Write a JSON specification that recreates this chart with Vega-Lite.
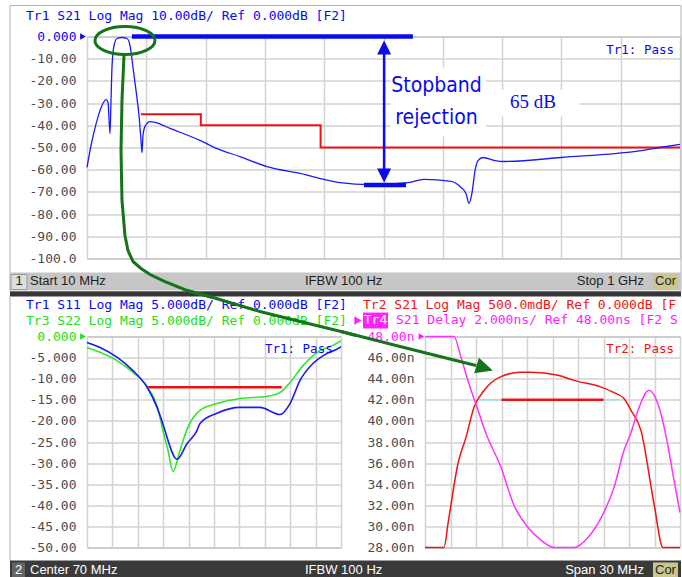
{
  "$schema": "https://vega.github.io/schema/vega-lite/v6.json",
  "padding": {"left": 7, "top": 4.5, "right": 0, "bottom": 0},
  "background": "white",
  "bounds": "flush",
  "spacing": 78,
  "config": {"view": {"stroke": "#7c7c7c", "strokeWidth": 1}},
  "vconcat": [
    {
      "width": 593,
      "height": 222,
      "encoding": {
        "x": {"field": "f", "type": "quantitative", "scale": {"domain": [10, 1000], "nice": false, "zero": false},
          "axis": {"values": [10, 109, 208, 307, 406, 505, 604, 703, 802, 901, 1000], "labels": false, "ticks": false, "domain": false, "grid": true, "title": null, "gridColor": "#d2d2d2", "gridWidth": 1.5}},
        "y": {"field": "v", "type": "quantitative", "scale": {"domain": [-100, 0], "nice": false, "zero": false},
          "axis": {"values": [-100, -90, -80, -70, -60, -50, -40, -30, -20, -10, 0], "title": null, "ticks": false, "domain": false, "grid": true, "gridColor": "#d2d2d2", "gridWidth": 1.5,
            "labelFont": "DejaVu Sans Mono", "labelFontSize": 13, "labelPadding": 11, "labelFlush": false, "labelOverlap": false,
            "labelColor": {"condition": {"test": "datum.value == 0", "value": "#0a0af0"}, "value": "#4d4d4d"},
            "labelExpr": "datum.value == 0 ? '0.000' : (datum.value <= -100 ? '-' + format(-datum.value, '.1f') : '-' + format(-datum.value, '.2f'))"}}
      },
      "layer": [
        {"data": {"values": [{"f": -118.55, "f2": 1001.67, "v": 13.96, "v2": -114.86}]}, "mark": {"type": "rect", "filled": false, "stroke": "#b4b4b4", "strokeWidth": 1}, "encoding": {"x2": {"field": "f2"}, "y2": {"field": "v2"}}},
        {"data": {"values": [{"f": -118.55, "f2": 1001.67, "v": -106.31, "v2": -114.41}]}, "mark": {"type": "rect", "fill": "#c6c6c6"}, "encoding": {"x2": {"field": "f2"}, "y2": {"field": "v2"}}},
        {"data": {"values": [{"f": -118.55, "f2": 1001.67, "v": -114.86, "v2": -117.12}]}, "mark": {"type": "rect", "fill": "#363636"}, "encoding": {"x2": {"field": "f2"}, "y2": {"field": "v2"}}},
        {"data": {"values": [{"f": -116.88, "f2": -90.17, "v": -107.2, "v2": -113.96}]}, "mark": {"type": "rect", "fill": "#dedede", "stroke": "#9a9a9a", "strokeWidth": 1}, "encoding": {"x2": {"field": "f2"}, "y2": {"field": "v2"}}},
        {"data": {"values": [{"f": 954.9, "f2": 996.7, "v": -106.76, "v2": -113.96}]}, "mark": {"type": "rect", "fill": "#c9c78e"}, "encoding": {"x2": {"field": "f2"}, "y2": {"field": "v2"}}},
        {"data": {"values": [{"f": -85.16, "v": -110.36, "t": "Start 10 MHz"}, {"f": 373.95, "v": -110.36, "t": "IFBW 100 Hz"}]}, "mark": {"type": "text", "align": "left", "baseline": "middle", "font": "Liberation Sans", "fontSize": 13, "color": "#1e1e1e"}, "encoding": {"text": {"field": "t"}}},
        {"data": {"values": [{"f": -103.5, "v": -110.36, "t": "1"}, {"f": 975.8, "v": -110.36, "t": "Cor"}]}, "mark": {"type": "text", "align": "center", "baseline": "middle", "font": "Liberation Sans", "fontSize": 13, "color": "#1e1e1e"}, "encoding": {"text": {"field": "t"}}},
        {"data": {"values": [{"f": 939.9, "v": -110.36, "t": "Stop 1 GHz"}]}, "mark": {"type": "text", "align": "right", "baseline": "middle", "font": "Liberation Sans", "fontSize": 13, "color": "#1e1e1e"}, "encoding": {"text": {"field": "t"}}},
        {"data": {"values": [{"f": 517, "f2": 676, "v": -14, "v2": -45}, {"f": 676, "f2": 832, "v": -24, "v2": -36}]}, "mark": {"type": "rect", "fill": "white"}, "encoding": {"x2": {"field": "f2"}, "y2": {"field": "v2"}}},
        {"data": {"values": [{"f": 100, "v": -35}, {"f": 200, "v": -40}, {"f": 400, "v": -50}, {"f": 1000, "v": -50}]}, "mark": {"type": "line", "interpolate": "step-after", "color": "#ee1111", "strokeWidth": 2}},
        {"data": {"values": [
          {"f": 10, "v": -59}, {"f": 16.7, "v": -49.1}, {"f": 26.7, "v": -37.8}, {"f": 35, "v": -31.1}, {"f": 41.7, "v": -28.4}, {"f": 45.1, "v": -29.7}, {"f": 48.4, "v": -43.7}, {"f": 50.1, "v": -28.8}, {"f": 51.7, "v": -14}, {"f": 55.1, "v": -4.05}, {"f": 60.1, "v": -0.9}, {"f": 68.4, "v": -0.45}, {"f": 76.8, "v": -0.9}, {"f": 81.8, "v": -4.05}, {"f": 86.8, "v": -14}, {"f": 91.8, "v": -24.3}, {"f": 96.8, "v": -35.6}, {"f": 100.2, "v": -46.8}, {"f": 101.8, "v": -52.3}, {"f": 103.5, "v": -44.6}, {"f": 106.8, "v": -40.5}, {"f": 115.2, "v": -38.3}, {"f": 123.5, "v": -38.7}, {"f": 148.6, "v": -41.4}, {"f": 198.7, "v": -46.8}, {"f": 227, "v": -50.5}, {"f": 265.4, "v": -54.1}, {"f": 310.5, "v": -58.6}, {"f": 365.6, "v": -61.7}, {"f": 432.4, "v": -65.8}, {"f": 482.5, "v": -66.7}, {"f": 546, "v": -65.8}, {"f": 572.6, "v": -64.4}, {"f": 617.7, "v": -65.3}, {"f": 634.4, "v": -68}, {"f": 642.7, "v": -70.7}, {"f": 647.8, "v": -75.2}, {"f": 652.8, "v": -70.3}, {"f": 657.8, "v": -60.4}, {"f": 662.8, "v": -55.9}, {"f": 671.1, "v": -54.5}, {"f": 691.2, "v": -55.9}, {"f": 706.2, "v": -56.3}, {"f": 801.3, "v": -54.5}, {"f": 935, "v": -51.4}, {"f": 966.6, "v": -50}, {"f": 1000, "v": -48.6}
        ]}, "mark": {"type": "line", "interpolate": "monotone", "color": "#1a1aff", "strokeWidth": 1.3}},
        {"data": {"values": [{"f": 85, "v": 0}, {"f": 554, "v": 0}]}, "mark": {"type": "line", "color": "#0a0af0", "strokeWidth": 4.5, "strokeCap": "butt"}},
        {"data": {"values": [{"f": 472.4, "v": -66.9}, {"f": 542.6, "v": -66.9}]}, "mark": {"type": "line", "color": "#0a0af0", "strokeWidth": 4.5, "strokeCap": "butt"}},
        {"data": {"values": [{"f": 506, "v": -5}, {"f": 506, "v": -62}]}, "mark": {"type": "line", "color": "#0a0af0", "strokeWidth": 2.5}},
        {"data": {"values": [{"f": 506, "v": -4.95}]}, "mark": {"type": "point", "shape": "M0,-1L1,1L-1,1Z", "size": 196, "filled": true, "opacity": 1, "color": "#0a0af0"}},
        {"data": {"values": [{"f": 506, "v": -62.6}]}, "mark": {"type": "point", "shape": "M0,1L1,-1L-1,-1Z", "size": 196, "filled": true, "opacity": 1, "color": "#0a0af0"}},
        {"data": {"values": [{"f": 593.5, "v": -22.1, "t": "Stopband"}, {"f": 593.5, "v": -36.5, "t": "rejection"}]}, "mark": {"type": "text", "align": "center", "baseline": "middle", "font": "DejaVu Sans Condensed, Liberation Sans", "fontSize": 21, "color": "#0a0af0"}, "encoding": {"text": {"field": "t"}}},
        {"data": {"values": [{"f": 754.6, "v": -29.7, "t": "65 dB"}]}, "mark": {"type": "text", "align": "center", "baseline": "middle", "font": "Liberation Serif", "fontSize": 19, "color": "#0a0af0"}, "encoding": {"text": {"field": "t"}}},
        {"data": {"values": [{"f": 990, "v": -5.86, "t": "Tr1: Pass"}]}, "mark": {"type": "text", "align": "right", "baseline": "middle", "font": "DejaVu Sans Mono", "fontSize": 12.5, "color": "#0a0af0"}, "encoding": {"text": {"field": "t"}}},
        {"data": {"values": [{"f": -91.84, "v": 9.01, "t": "Tr1 S21 Log Mag 10.00dB/ Ref 0.000dB [F2]"}]}, "mark": {"type": "text", "align": "left", "baseline": "middle", "font": "DejaVu Sans Mono", "fontSize": 13, "color": "#0a0af0"}, "encoding": {"text": {"field": "t"}}},
        {"data": {"values": [{"f": 3.32, "v": 0}]}, "mark": {"type": "point", "shape": "triangle-right", "size": 45, "filled": true, "opacity": 1, "color": "#0a0af0"}},
        {"data": {"values": [{"f": 73.4, "v": -1.8}]}, "mark": {"type": "point", "shape": "M-1,0A1,0.467,0,1,1,1,0A1,0.467,0,1,1,-1,0Z", "size": 3600, "filled": false, "opacity": 1, "color": "#16731a", "strokeWidth": 3}},
        {"data": {"values": [
          {"i": 0, "f": 71.8, "v": -8.11}, {"i": 1, "f": 68.4, "v": -28.83}, {"i": 2, "f": 66.8, "v": -51.35}, {"i": 3, "f": 68.4, "v": -73.87}, {"i": 4, "f": 73.4, "v": -89.64}, {"i": 5, "f": 78.4, "v": -96.4}, {"i": 6, "f": 86.8, "v": -101.35}, {"i": 7, "f": 100.2, "v": -104.5}, {"i": 8, "f": 115.2, "v": -107.2}, {"i": 9, "f": 140.2, "v": -110.4}, {"i": 10, "f": 176.9, "v": -114.4}, {"i": 11, "f": 220.4, "v": -117.6}
        ]}, "mark": {"type": "line", "color": "#16731a", "strokeWidth": 3}, "encoding": {"order": {"field": "i", "type": "quantitative"}}}
      ]
    },
    {
      "hconcat": [
        {
          "width": 254,
          "height": 211,
          "encoding": {
            "x": {"field": "f", "type": "quantitative", "scale": {"domain": [55, 85], "nice": false, "zero": false},
              "axis": {"values": [55, 58, 61, 64, 67, 70, 73, 76, 79, 82, 85], "labels": false, "ticks": false, "domain": false, "grid": true, "title": null, "gridColor": "#d2d2d2", "gridWidth": 1.5}},
            "y": {"field": "v", "type": "quantitative", "scale": {"domain": [-50, 0], "nice": false, "zero": false},
              "axis": {"values": [-50, -45, -40, -35, -30, -25, -20, -15, -10, -5, 0], "title": null, "ticks": false, "domain": false, "grid": true, "gridColor": "#d2d2d2", "gridWidth": 1.5,
                "labelFont": "DejaVu Sans Mono", "labelFontSize": 13, "labelPadding": 11, "labelFlush": false, "labelOverlap": false,
                "labelColor": {"condition": {"test": "datum.value == 0", "value": "#22dd22"}, "value": "#4d4d4d"},
                "labelExpr": "datum.value == 0 ? '0.000' : (datum.value > -10 ? '-' + format(-datum.value, '.3f') : '-' + format(-datum.value, '.2f'))"}}
          },
          "layer": [
            {"data": {"values": [{"f": 45.906, "v": 9.48}, {"f": 45.906, "v": -53.08}]}, "mark": {"type": "line", "color": "#b4b4b4", "strokeWidth": 1}},
            {"data": {"values": [{"f": 45.906, "f2": 86.654, "v": -53.08, "v2": -57.11}]}, "mark": {"type": "rect", "fill": "#3a3a3a"}, "encoding": {"x2": {"field": "f2"}, "y2": {"field": "v2"}}},
            {"data": {"values": [{"f": 46.142, "f2": 47.677, "v": -53.55, "v2": -57.11}]}, "mark": {"type": "rect", "fill": "#646464"}, "encoding": {"x2": {"field": "f2"}, "y2": {"field": "v2"}}},
            {"data": {"values": [{"f": 46.91, "v": -55.45, "t": "2"}]}, "mark": {"type": "text", "align": "center", "baseline": "middle", "font": "Liberation Sans", "fontSize": 13, "color": "white"}, "encoding": {"text": {"field": "t"}}},
            {"data": {"values": [{"f": 48.268, "v": -55.45, "t": "Center 70 MHz"}]}, "mark": {"type": "text", "align": "left", "baseline": "middle", "font": "Liberation Sans", "fontSize": 13, "color": "white"}, "encoding": {"text": {"field": "t"}}},
            {"data": {"values": [{"f": 62, "v": -12}, {"f": 78, "v": -12}]}, "mark": {"type": "line", "color": "#ee1111", "strokeWidth": 2.5}},
            {"data": {"values": [
              {"f": 55, "v": -2.6}, {"f": 58.54, "v": -5.7}, {"f": 60.43, "v": -8.5}, {"f": 62.09, "v": -11.8}, {"f": 63.27, "v": -16.4}, {"f": 63.98, "v": -22.3}, {"f": 64.57, "v": -27}, {"f": 65.16, "v": -32}, {"f": 65.98, "v": -27}, {"f": 66.81, "v": -22}, {"f": 68.35, "v": -17.5}, {"f": 70.35, "v": -15.9}, {"f": 73.07, "v": -14.7}, {"f": 76.26, "v": -14.2}, {"f": 77.79, "v": -13.3}, {"f": 78.98, "v": -10.9}, {"f": 80.51, "v": -6.9}, {"f": 82.16, "v": -3.8}, {"f": 84.05, "v": -2.1}, {"f": 85, "v": -1.0}
            ]}, "mark": {"type": "line", "interpolate": "monotone", "color": "#2ee82e", "strokeWidth": 1.6}},
            {"data": {"values": [
              {"f": 55, "v": -1.4}, {"f": 56.54, "v": -2.6}, {"f": 58.54, "v": -4.9}, {"f": 60.43, "v": -8.1}, {"f": 62.09, "v": -12.0}, {"f": 63.27, "v": -16.8}, {"f": 64.21, "v": -22.3}, {"f": 64.45, "v": -23.9}, {"f": 65.63, "v": -29.1}, {"f": 66.81, "v": -25.4}, {"f": 67.99, "v": -22.3}, {"f": 68.35, "v": -20.6}, {"f": 70.35, "v": -18.2}, {"f": 73.07, "v": -16.8}, {"f": 75.43, "v": -16.8}, {"f": 77.79, "v": -18.5}, {"f": 78.98, "v": -15.9}, {"f": 80.16, "v": -10.4}, {"f": 81.69, "v": -6.4}, {"f": 83.35, "v": -4.0}, {"f": 84.88, "v": -2.6}, {"f": 85, "v": -2.4}
            ]}, "mark": {"type": "line", "interpolate": "monotone", "color": "#1a1aff", "strokeWidth": 1.6}},
            {"data": {"values": [{"f": 47.795, "v": 7.35, "t": "Tr1 S11 Log Mag 5.000dB/ Ref 0.000dB [F2]"}]}, "mark": {"type": "text", "align": "left", "baseline": "middle", "font": "DejaVu Sans Mono", "fontSize": 13, "color": "#0a0af0"}, "encoding": {"text": {"field": "t"}}},
            {"data": {"values": [{"f": 47.795, "v": 3.79, "t": "Tr3 S22 Log Mag 5.000dB/ Ref 0.000dB [F2]"}]}, "mark": {"type": "text", "align": "left", "baseline": "middle", "font": "DejaVu Sans Mono", "fontSize": 13, "color": "#22dd22"}, "encoding": {"text": {"field": "t"}}},
            {"data": {"values": [{"f": 76.02, "v": -3.08, "t": "Tr1: Pass"}]}, "mark": {"type": "text", "align": "left", "baseline": "middle", "font": "DejaVu Sans Mono", "fontSize": 12.5, "color": "#0a0af0"}, "encoding": {"text": {"field": "t"}}},
            {"data": {"values": [{"f": 54.53, "v": 0}]}, "mark": {"type": "point", "shape": "triangle-right", "size": 45, "filled": true, "opacity": 1, "color": "#22dd22"}},
            {"data": {"values": [
              {"i": 0, "f": 66.81, "v": 10.9}, {"i": 1, "f": 69.88, "v": 9.24}, {"i": 2, "f": 75.43, "v": 5.92}, {"i": 3, "f": 80.16, "v": 3.55}, {"i": 4, "f": 85, "v": 1.18}, {"i": 5, "f": 86.77, "v": 0.24}
            ]}, "mark": {"type": "line", "color": "#16731a", "strokeWidth": 3}, "encoding": {"order": {"field": "i", "type": "quantitative"}}}
          ]
        },
        {
          "width": 255,
          "height": 211,
          "resolve": {"scale": {"y": "independent"}},
          "layer": [
            {
              "encoding": {
                "x": {"field": "f", "type": "quantitative", "scale": {"domain": [55, 85], "nice": false, "zero": false},
                  "axis": {"values": [55, 58, 61, 64, 67, 70, 73, 76, 79, 82, 85], "labels": false, "ticks": false, "domain": false, "grid": true, "title": null, "gridColor": "#d2d2d2", "gridWidth": 1.5}},
                "y": {"field": "v", "type": "quantitative", "scale": {"domain": [-5, 0], "nice": false, "zero": false}, "axis": null}
              },
              "layer": [
                {"data": {"values": [{"f": 61.35, "v": -1.5}, {"f": 77.8, "v": -1.5}]}, "mark": {"type": "line", "color": "#8ee6ee", "strokeWidth": 1.5}},
                {"data": {"values": [{"f": 64, "v": -1.5}, {"f": 76, "v": -1.5}]}, "mark": {"type": "line", "color": "#ee1111", "strokeWidth": 2.5}},
                {"data": {"values": [
                  {"f": 55, "v": -5}, {"f": 57.24, "v": -5}, {"f": 57.71, "v": -4.43}, {"f": 58.88, "v": -3.01}, {"f": 59.82, "v": -2.39}, {"f": 60.76, "v": -1.68}, {"f": 61.94, "v": -1.28}, {"f": 63.94, "v": -0.95}, {"f": 66.29, "v": -0.85}, {"f": 67.47, "v": -0.85}, {"f": 70.65, "v": -0.92}, {"f": 72.53, "v": -1.04}, {"f": 75.71, "v": -1.2}, {"f": 77.24, "v": -1.33}, {"f": 78.41, "v": -1.47}, {"f": 79.24, "v": -1.75}, {"f": 80.41, "v": -2.23}, {"f": 81.94, "v": -3.96}, {"f": 83, "v": -5}, {"f": 85, "v": -5}
                ]}, "mark": {"type": "line", "interpolate": "monotone", "color": "#f01414", "strokeWidth": 1.5}}
              ]
            },
            {
              "encoding": {
                "x": {"field": "f", "type": "quantitative", "scale": {"domain": [55, 85], "nice": false, "zero": false},
                  "axis": {"values": [55, 58, 61, 64, 67, 70, 73, 76, 79, 82, 85], "labels": false, "ticks": false, "domain": false, "grid": true, "title": null, "gridColor": "#d2d2d2", "gridWidth": 1.5}},
                "y": {"field": "v", "type": "quantitative", "scale": {"domain": [28, 48], "nice": false, "zero": false},
                  "axis": {"values": [28, 30, 32, 34, 36, 38, 40, 42, 44, 46, 48], "title": null, "ticks": false, "domain": false, "grid": true, "gridColor": "#d2d2d2", "gridWidth": 1.5,
                    "labelFont": "DejaVu Sans Mono", "labelFontSize": 13, "labelPadding": 11, "labelFlush": false, "labelOverlap": false,
                    "labelColor": {"condition": {"test": "datum.value == 48", "value": "#ff22ff"}, "value": "#4d4d4d"},
                    "labelExpr": "format(datum.value, '.2f') + 'n'"}}
              },
              "layer": [
                {"data": {"values": [{"f": 46.765, "f2": 85.118, "v": 26.77, "v2": 25.16}]}, "mark": {"type": "rect", "fill": "#3a3a3a"}, "encoding": {"x2": {"field": "f2"}, "y2": {"field": "v2"}}},
                {"data": {"values": [{"f": 81.82, "f2": 84.76, "v": 26.58, "v2": 25.16}]}, "mark": {"type": "rect", "fill": "#c9c78e"}, "encoding": {"x2": {"field": "f2"}, "y2": {"field": "v2"}}},
                {"data": {"values": [{"f": 40.88, "v": 25.82, "t": "IFBW 100 Hz"}]}, "mark": {"type": "text", "align": "left", "baseline": "middle", "font": "Liberation Sans", "fontSize": 13, "color": "white"}, "encoding": {"text": {"field": "t"}}},
                {"data": {"values": [{"f": 80.76, "v": 25.82, "t": "Span 30 MHz"}]}, "mark": {"type": "text", "align": "right", "baseline": "middle", "font": "Liberation Sans", "fontSize": 13, "color": "white"}, "encoding": {"text": {"field": "t"}}},
                {"data": {"values": [{"f": 83.29, "v": 25.82, "t": "Cor"}]}, "mark": {"type": "text", "align": "center", "baseline": "middle", "font": "Liberation Sans", "fontSize": 13, "color": "#1e1e1e"}, "encoding": {"text": {"field": "t"}}},
                {"data": {"values": [{"f": 47.706, "v": 50.94, "t": "Tr2 S21 Log Mag 500.0mdB/ Ref 0.000dB [F2"}]}, "mark": {"type": "text", "align": "left", "baseline": "middle", "font": "DejaVu Sans Mono", "fontSize": 13, "color": "#f01414", "limit": 319, "ellipsis": "\u200b"}, "encoding": {"text": {"field": "t"}}},
                {"data": {"values": [{"f": 47.12, "v": 49.52}]}, "mark": {"type": "point", "shape": "triangle-right", "size": 70, "filled": true, "opacity": 1, "color": "#ff22ff"}},
                {"data": {"values": [{"f": 47.706, "f2": 50.647, "v": 50.27, "v2": 48.76}]}, "mark": {"type": "rect", "fill": "#ff22ff"}, "encoding": {"x2": {"field": "f2"}, "y2": {"field": "v2"}}},
                {"data": {"values": [{"f": 49.18, "v": 49.52, "t": "Tr4"}]}, "mark": {"type": "text", "align": "center", "baseline": "middle", "font": "DejaVu Sans Mono", "fontSize": 13, "color": "white"}, "encoding": {"text": {"field": "t"}}},
                {"data": {"values": [{"f": 51.588, "v": 49.52, "t": "S21 Delay 2.000ns/ Ref 48.00ns [F2 Sm"}]}, "mark": {"type": "text", "align": "left", "baseline": "middle", "font": "DejaVu Sans Mono", "fontSize": 13, "color": "#ff22ff", "limit": 286, "ellipsis": "\u200b"}, "encoding": {"text": {"field": "t"}}},
                {"data": {"values": [
                  {"f": 55, "v": 48}, {"f": 58.41, "v": 48}, {"f": 59.24, "v": 46.0}, {"f": 60.06, "v": 43.8}, {"f": 61.24, "v": 41.0}, {"f": 62.18, "v": 38.8}, {"f": 63.94, "v": 35.6}, {"f": 65.47, "v": 32.0}, {"f": 67.12, "v": 29.9}, {"f": 68.65, "v": 28.7}, {"f": 70.18, "v": 28.0}, {"f": 72.53, "v": 28.0}, {"f": 74.18, "v": 28.95}, {"f": 75.71, "v": 30.8}, {"f": 77.24, "v": 33.7}, {"f": 78.41, "v": 37.2}, {"f": 79.24, "v": 38.9}, {"f": 80.06, "v": 41.0}, {"f": 81.35, "v": 42.9}, {"f": 82.41, "v": 41.6}, {"f": 83.35, "v": 38.6}, {"f": 84.29, "v": 34.4}, {"f": 85, "v": 31.3}
                ]}, "mark": {"type": "line", "interpolate": "monotone", "color": "#ff33ff", "strokeWidth": 1.5}},
                {"data": {"values": [{"f": 84.29, "v": 46.77, "t": "Tr2: Pass"}]}, "mark": {"type": "text", "align": "right", "baseline": "middle", "font": "DejaVu Sans Mono", "fontSize": 12.5, "color": "#f01414"}, "encoding": {"text": {"field": "t"}}},
                {"data": {"values": [{"f": 54.59, "v": 48}]}, "mark": {"type": "point", "shape": "triangle-right", "size": 45, "filled": true, "opacity": 1, "color": "#ff22ff"}},
                {"data": {"values": [
                  {"i": 0, "f": 45.12, "v": 48.47}, {"i": 1, "f": 46.76, "v": 48.14}, {"i": 2, "f": 52.06, "v": 47.05}, {"i": 3, "f": 56.76, "v": 46.1}, {"i": 4, "f": 61.0, "v": 45.25}
                ]}, "mark": {"type": "line", "color": "#16731a", "strokeWidth": 3}, "encoding": {"order": {"field": "i", "type": "quantitative"}}},
                {"data": {"values": [{"f": 62.02, "v": 45.01}]}, "mark": {"type": "point", "shape": "M1,0L-1,-0.95L-1,0.95Z", "size": 289, "angle": 17, "filled": true, "opacity": 1, "color": "#16731a"}}
              ]
            }
          ]
        }
      ],
      "spacing": 84,
      "bounds": "flush"
    }
  ]
}
